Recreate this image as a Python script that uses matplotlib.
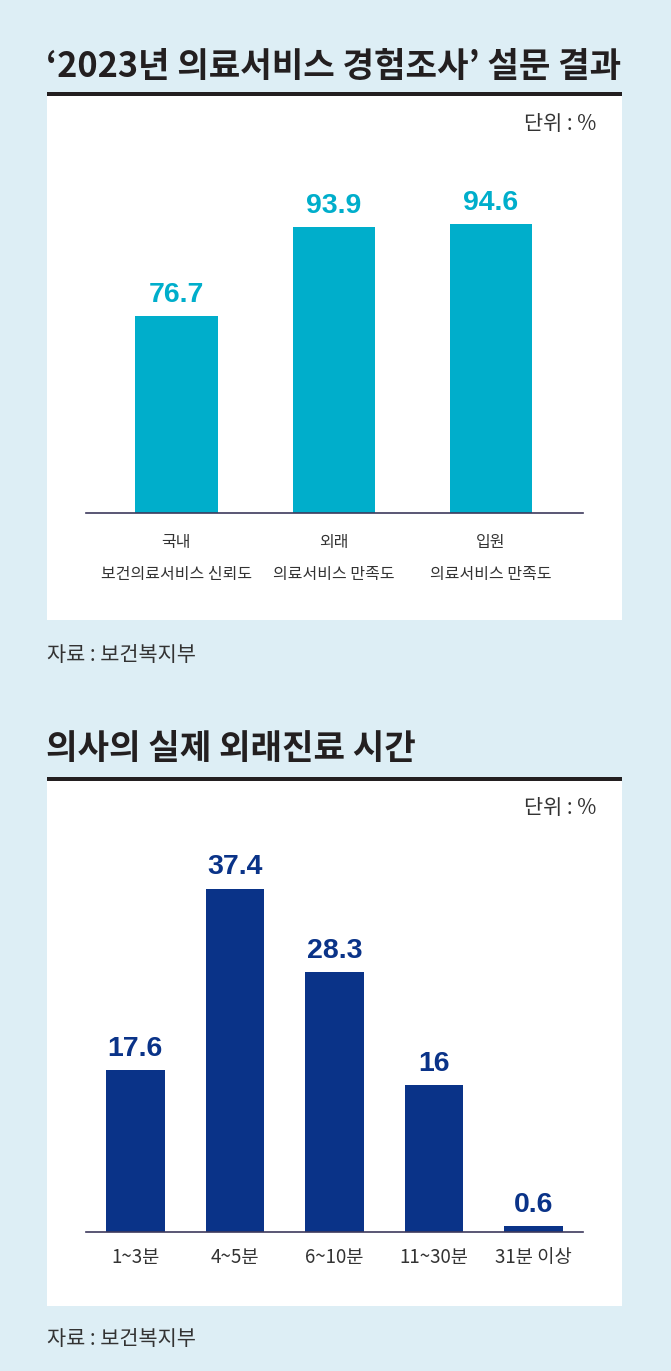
import matplotlib
matplotlib.use('Agg')
import matplotlib.pyplot as plt
from matplotlib.patches import Rectangle
from matplotlib.transforms import blended_transform_factory

# ---- data -------------------------------------------------------------
title_top = '‘2023년 의료서비스 경험조사’ 설문 결과'
cats_top = [('국내', '보건의료서비스 신뢰도'),
            ('외래', '의료서비스 만족도'),
            ('입원', '의료서비스 만족도')]
vals_top = [76.7, 93.9, 94.6]

title_bot = '의사의 실제 외래진료 시간'
cats_bot = ['1~3분', '4~5분', '6~10분', '11~30분', '31분 이상']
vals_bot = [17.6, 37.4, 28.3, 16, 0.6]
val_text_bot = ['17.6', '37.4', '28.3', '16', '0.6']

unit_text = '단위 : %'
source_text = '자료 : 보건복지부'

# ---- style ------------------------------------------------------------
W, H = 671, 1371
BG = '#DDEEF5'
CYAN = '#00AECB'
NAVY = '#0A3388'
INK = '#231F20'
GREY = '#333333'
AXIS = '#3D3A5C'
KR = ['Noto Sans CJK KR', 'DejaVu Sans']
NUM = ['Liberation Sans Narrow', 'Liberation Sans', 'DejaVu Sans']


def fx(x):
    return x / W


def fy(y):
    return 1 - y / H


fig = plt.figure(figsize=(W / 100, H / 100), dpi=100, facecolor=BG)


def box(x0, y0, x1, y1, color):
    fig.patches.append(Rectangle((fx(x0), fy(y1)), (x1 - x0) / W, (y1 - y0) / H,
                                 transform=fig.transFigure, color=color, lw=0,
                                 zorder=-5))


def section(title, ytitle, yrule, ypanel_end, yunit, ysource):
    fig.text(fx(46), fy(ytitle), title, family=KR, weight='black', fontsize=24.7,
             color=INK, va='center', ha='left')
    box(47, yrule, 622, yrule + 4, INK)
    box(47, yrule + 4, 622, ypanel_end, 'white')
    fig.text(fx(596), fy(yunit), unit_text, family=KR, fontsize=15,
             color=GREY, va='center', ha='right')
    fig.text(fx(47), fy(ysource), source_text, family=KR, fontsize=15,
             color=GREY, va='center', ha='left')


def bar_axes(ytop, ybase, xlim, ylim):
    ax = fig.add_axes([fx(86), fy(ybase), (583 - 86) / W, (ybase - ytop) / H])
    ax.set_facecolor('none')
    for s in ['top', 'right', 'left']:
        ax.spines[s].set_visible(False)
    ax.spines['bottom'].set_color(AXIS)
    ax.spines['bottom'].set_linewidth(1.2)
    ax.set_xticks([])
    ax.set_yticks([])
    ax.set_xlim(*xlim)
    ax.set_ylim(*ylim)
    return ax


# ---- top chart --------------------------------------------------------
section(title_top, 66, 92, 620, 124, 655)
ax1 = bar_axes(150, 513, (-0.575, 2.585), (38.7, 108.8))
x1 = list(range(len(vals_top)))
ax1.bar(x1, vals_top, width=0.524, color=CYAN)
for x, v in zip(x1, vals_top):
    ax1.annotate(f'{v}', (x, v), xytext=(0, 10), textcoords='offset points',
                 ha='center', va='baseline', family=NUM, weight='bold',
                 fontsize=20.5, color=CYAN)
tr1 = blended_transform_factory(ax1.transData, fig.transFigure)
for x, (l1, l2) in zip(x1, cats_top):
    ax1.text(x, fy(543), l1, transform=tr1, family=KR, fontsize=11.5,
             color=GREY, ha='center', va='center')
    ax1.text(x, fy(575), l2, transform=tr1, family=KR, fontsize=11.5,
             color=GREY, ha='center', va='center')

# ---- bottom chart -----------------------------------------------------
section(title_bot, 748, 777, 1306, 808, 1339)
ax2 = bar_axes(830, 1232, (-0.495, 4.495), (0, 43.8))
x2 = list(range(len(vals_bot)))
ax2.bar(x2, vals_bot, width=0.59, color=NAVY)
for x, v, t in zip(x2, vals_bot, val_text_bot):
    ax2.annotate(t, (x, v), xytext=(0, 10.5), textcoords='offset points',
                 ha='center', va='baseline', family=NUM, weight='bold',
                 fontsize=20.5, color=NAVY)
tr2 = blended_transform_factory(ax2.transData, fig.transFigure)
for x, c in zip(x2, cats_bot):
    ax2.text(x, fy(1258), c, transform=tr2, family=KR, fontsize=13.5,
             color=GREY, ha='center', va='center')

fig.savefig('out.png', dpi=100, facecolor=BG)
